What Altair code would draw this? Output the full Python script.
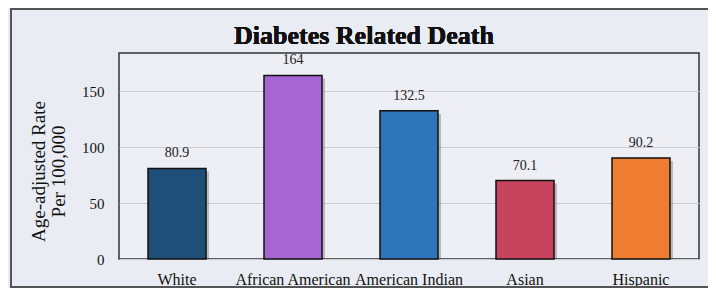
import altair as alt
import pandas as pd

groups = ["White", "African American", "American Indian", "Asian", "Hispanic"]
rates = [80.9, 164, 132.5, 70.1, 90.2]
colors = ["#1f4e79", "#a565d3", "#2e74b8", "#c8435e", "#ee7d31"]
y_ticks = [0, 50, 100, 150]

df = pd.DataFrame({"group": groups, "rate": rates})

SERIF = "Liberation Serif"

x_enc = alt.X("group:N", sort=groups, title=None,
              scale=alt.Scale(paddingInner=0.5, paddingOuter=0.25),
              axis=alt.Axis(labelAngle=0, labelFont=SERIF, labelFontSize=16,
                            labelColor="#111", labelPadding=12, ticks=False,
                            domain=False, labelOverlap=False))
y_enc = alt.Y("rate:Q",
              scale=alt.Scale(domain=[0, 184], nice=False),
              axis=alt.Axis(values=y_ticks, title=["Age-adjusted Rate", "Per 100,000"],
                            titleFont=SERIF, titleFontSize=19, titleFontWeight="normal",
                            titleColor="#111", titleAngle=270, titleX=-81, titleY=118,
                            titleAlign="center", titleBaseline="middle", titleLineHeight=20,
                            labelFont=SERIF, labelFontSize=15, labelColor="#111",
                            labelPadding=15, ticks=False, domain=False,
                            grid=True, gridColor="#c9cbd0", gridWidth=1))

base = alt.Chart(df)

frame = base.mark_rect(fill=None, stroke="#555", strokeWidth=2).encode(
    x=alt.value(-108), x2=alt.value(620), y=alt.value(-44), y2=alt.value(234)
)

shadow = base.mark_bar(color="#000", opacity=0.22, xOffset=3, yOffset=3, clip=True).encode(
    x=x_enc, y=y_enc
)

bars = base.mark_bar(stroke="#111", strokeWidth=1.5).encode(
    x=x_enc, y=y_enc,
    color=alt.Color("group:N", scale=alt.Scale(domain=groups, range=colors), legend=None),
)

labels = base.mark_text(baseline="alphabetic", dy=-11, font=SERIF, fontSize=14,
                        color="#222").encode(
    x=x_enc, y=y_enc, text=alt.Text("rate:Q")
)

title = base.mark_text(text="Diabetes Related Death", font=SERIF, fontSize=26,
                       fontWeight="bold", color="#111", baseline="alphabetic",
                       align="center").encode(
    x=alt.value(245), y=alt.value(-9)
)

chart = alt.layer(frame, shadow, bars, labels, title).properties(
    width=580, height=206,
    autosize=alt.AutoSizeParams(type="none"),
    padding={"left": 111, "top": 45, "right": 9, "bottom": 29},
    background="#e9ecf2",
).configure_view(stroke="#333", strokeWidth=1.5, fill="#edeff4")

chart.save("out.html", embed_options={"renderer": "svg", "actions": False})
